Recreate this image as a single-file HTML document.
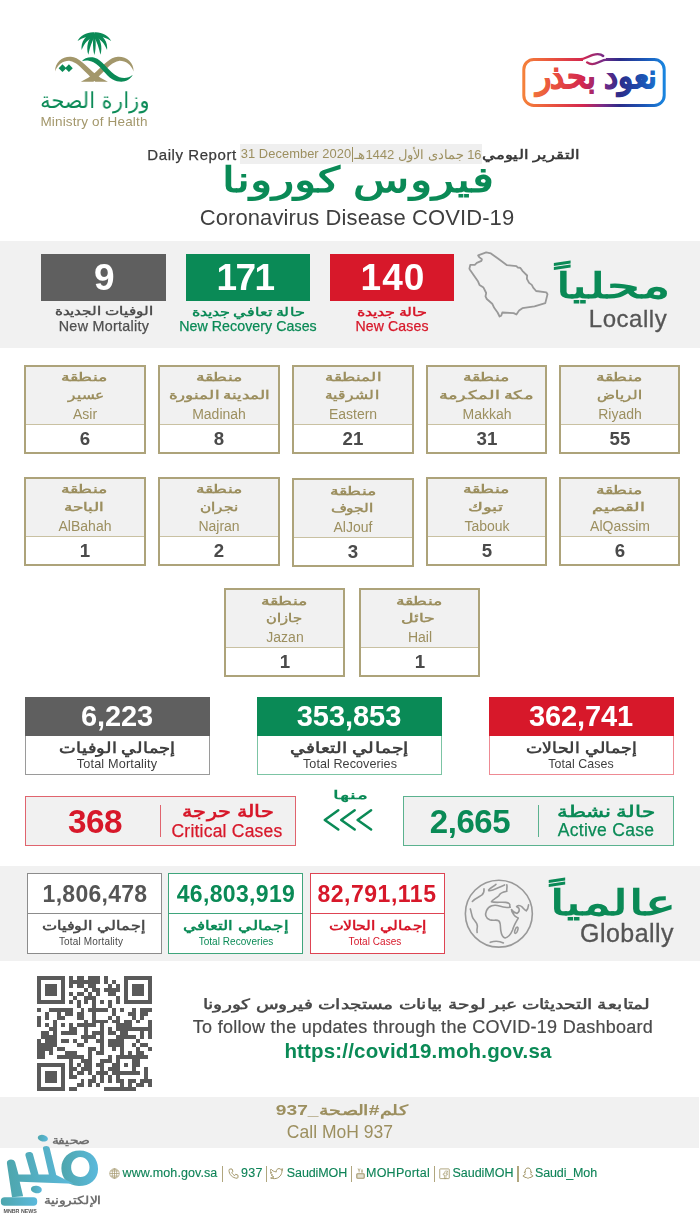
<!DOCTYPE html>
<html lang="ar"><head><meta charset="utf-8"><title>COVID-19 Daily Report</title>
<style>
*{margin:0;padding:0;box-sizing:border-box}
html,body{width:700px;height:1214px;background:#fff;overflow:hidden}
body{position:relative;font-family:"Liberation Sans",sans-serif}
.b{position:absolute}
.t{position:absolute;white-space:nowrap;line-height:1;text-align:center;will-change:transform}
svg{position:absolute;overflow:visible}
</style></head><body>
<div class="b" style="left:0px;top:240.5px;width:700px;height:107px;background:#f1f1f1;"></div>
<div class="b" style="left:0px;top:865.7px;width:700px;height:95.3px;background:#f1f1f1;"></div>
<div class="b" style="left:0px;top:1097px;width:699px;height:51px;background:#f1f1f1;"></div>
<svg style="left:50px;top:28px" width="90" height="60" viewBox="0 0 700 467">
<g fill="#a3976b">
<path d="M40 338 C36 268 98 220 162 224 C224 228 274 288 334 343 C374 378 412 400 450 418 L352 418 C330 398 306 372 282 348 C238 304 200 262 155 256 C108 252 58 284 40 338 Z"/>
<path d="M650 338 C654 268 592 220 528 224 C466 228 416 288 356 343 C316 378 278 400 240 418 L338 418 C360 398 384 372 408 348 C452 304 490 262 535 256 C582 252 632 284 650 338 Z"/>
</g>
<g fill="#0a8a56">
<path d="M248 258 C268 232 310 222 347 232 C404 248 442 318 502 362 C552 398 602 398 644 364 C612 424 545 430 488 400 C428 366 398 296 338 266 C308 252 274 250 248 258 Z"/>
<path d="M97 283 L127 313 L97 343 L67 313 Z"/><path d="M147 283 L177 313 L147 343 L117 313 Z"/>
<path d="M345 30 C356 70 362 150 345 210 C328 150 334 70 345 30 Z"/>
<path d="M342 46 C296 76 278 150 298 208 C310 152 324 104 352 62 Z"/>
<path d="M348 46 C394 76 412 150 392 208 C380 152 366 104 338 62 Z"/>
<path d="M338 40 C276 50 238 108 246 172 C266 118 298 84 350 62 Z"/>
<path d="M352 40 C414 50 452 108 444 172 C424 118 392 84 340 62 Z"/>
<path d="M342 33 C288 30 234 58 214 102 C254 74 296 62 348 60 Z"/>
<path d="M348 33 C402 30 456 58 476 102 C436 74 394 62 342 60 Z"/>
</g></svg>
<div class="t" style="left:-105.0px;top:90.0px;width:400px;font-size:22px;color:#0a8a56;direction:rtl;transform:scaleX(0.946);">وزارة الصحة</div>
<div class="t" style="left:-105.9px;top:115.1px;width:400px;font-size:13.5px;color:#a3976b;letter-spacing:0.16px;">Ministry of Health</div>
<svg style="left:518px;top:46px" width="152" height="66" viewBox="0 0 152 66">
<defs><linearGradient id="cg" gradientUnits="userSpaceOnUse" x1="5" y1="0" x2="147" y2="0">
<stop offset="0" stop-color="#f5813a"/><stop offset="0.22" stop-color="#e8503f"/><stop offset="0.42" stop-color="#d3274f"/><stop offset="0.56" stop-color="#7a2a86"/><stop offset="0.68" stop-color="#2b2c8a"/><stop offset="0.85" stop-color="#1c55b5"/><stop offset="1" stop-color="#1a86e0"/></linearGradient><linearGradient id="cg2" gradientUnits="userSpaceOnUse" x1="-78.7" y1="0" x2="74.2" y2="0"><stop offset="0" stop-color="#f5813a"/><stop offset="0.22" stop-color="#e8503f"/><stop offset="0.42" stop-color="#d3274f"/><stop offset="0.56" stop-color="#7a2a86"/><stop offset="0.68" stop-color="#2b2c8a"/><stop offset="0.85" stop-color="#1c55b5"/><stop offset="1" stop-color="#1a86e0"/></linearGradient></defs>
<rect x="5.8" y="13.4" width="140.4" height="46" rx="10" ry="10" fill="#fff" stroke="url(#cg)" stroke-width="3"/>
<rect x="65" y="9" width="23" height="8" fill="#fff"/>
<path d="M60 13.4 C68 13.4 70 10 75 8.8 C79 7.8 83 8 85.2 10" fill="none" stroke="url(#cg)" stroke-width="2.4" stroke-linecap="round"/>
<path d="M69.1 16.4 C72 18.6 76 18.6 80 16.5 C84 14.4 86 13.4 91 13.4" fill="none" stroke="url(#cg)" stroke-width="2.4" stroke-linecap="round"/>
<text transform="translate(78.45 42.2) scale(0.929 1)" x="0" y="0" text-anchor="middle" direction="rtl" font-family="'Liberation Sans',sans-serif" font-weight="bold" font-size="33.6" fill="url(#cg2)" stroke="url(#cg2)" stroke-width="0.9">نعود بحذر</text>
</svg>
<div class="t" style="left:-7.6px;top:147.0px;width:400px;font-size:15px;color:#3a3a3a;-webkit-text-stroke:0.25px #3a3a3a;letter-spacing:0.57px;">Daily Report</div>
<div class="b" style="left:239.5px;top:144px;width:242.5px;height:19.7px;background:#efefef;"></div>
<div class="t" style="left:96.0px;top:147.7px;width:400px;font-size:12.9px;color:#9c8f5f;letter-spacing:0.05px;">31 December 2020</div>
<div class="b" style="left:352px;top:146.5px;width:1px;height:15px;background:#9c8f5f;"></div>
<div class="t" style="left:218.1px;top:147.8px;width:400px;font-size:13px;color:#9c8f5f;direction:rtl;transform:scaleX(0.998);">16 جمادى الأول 1442هـ</div>
<div class="t" style="left:331.1px;top:148.0px;width:400px;font-size:13px;color:#3a3a3a;font-weight:bold;direction:rtl;transform:scaleX(1.268);">التقرير اليومي</div>
<div class="t" style="left:157.5px;top:163.4px;width:400px;font-size:34.8px;color:#0a8a56;font-weight:bold;direction:rtl;transform:scaleX(1.315);">فيروس كورونا</div>
<div class="t" style="left:157.4px;top:206.8px;width:400px;font-size:22px;color:#3f3f3f;letter-spacing:0.10px;">Coronavirus Disease COVID-19</div>
<div class="b" style="left:41.3px;top:254px;width:124.5px;height:46.5px;background:#5f5f5f;"></div>
<div class="t" style="left:-95.2px;top:259.1px;width:400px;font-size:37px;color:#fff;font-weight:bold;letter-spacing:1.50px;">9</div>
<div class="t" style="left:-95.9px;top:305.0px;width:400px;font-size:11.6px;color:#4f4f4f;font-weight:bold;direction:rtl;transform:scaleX(1.265);">الوفيات الجديدة</div>
<div class="t" style="left:-95.8px;top:319.1px;width:400px;font-size:14.3px;color:#4f4f4f;-webkit-text-stroke:0.25px #4f4f4f;letter-spacing:0.30px;">New Mortality</div>
<div class="b" style="left:185.5px;top:254px;width:124px;height:46.5px;background:#0a8a56;"></div>
<div class="t" style="left:45.2px;top:259.1px;width:400px;font-size:37px;color:#fff;font-weight:bold;letter-spacing:-1.60px;">171</div>
<div class="t" style="left:47.7px;top:305.8px;width:400px;font-size:11.6px;color:#0a8a56;font-weight:bold;direction:rtl;transform:scaleX(1.335);">حالة تعافي جديدة</div>
<div class="t" style="left:48.0px;top:319.2px;width:400px;font-size:14.2px;color:#0a8a56;-webkit-text-stroke:0.25px #0a8a56;letter-spacing:0.06px;">New Recovery Cases</div>
<div class="b" style="left:329.5px;top:254px;width:124px;height:46.5px;background:#d7182a;"></div>
<div class="t" style="left:192.8px;top:259.1px;width:400px;font-size:37px;color:#fff;font-weight:bold;letter-spacing:1.03px;">140</div>
<div class="t" style="left:191.5px;top:305.6px;width:400px;font-size:11.6px;color:#d7182a;font-weight:bold;direction:rtl;transform:scaleX(1.333);">حالة جديدة</div>
<div class="t" style="left:191.9px;top:319.3px;width:400px;font-size:14.1px;color:#d7182a;-webkit-text-stroke:0.25px #d7182a;letter-spacing:0.12px;">New Cases</div>
<svg style="left:0;top:0" width="700" height="400" viewBox="0 0 700 400"><path fill="none" stroke="#999" stroke-width="1.8" stroke-linejoin="round" d="M478.1 255.4 L486.2 252.4 L490.9 253.4 L498.3 258.8 L507 265.2 L516.4 266.1 L517.7 267.5 L520.4 267.9 L522.4 270.8 L527.1 275.5 L526.9 278.9 L529.1 282.9 L531.8 284.9 L533.2 287.6 L536.1 291 L546.3 292.3 L547.5 294.3 L545.3 303.1 L534.5 306.4 L522.4 308.2 L519.1 310.5 L516.4 314.5 L513.7 313.1 L502.3 312.5 L501.2 315.8 L499.6 316.5 L497.6 312.5 L494.2 307.8 L492.2 303.7 L486.8 299 L485.5 296.4 L486.2 293 L483.5 287.6 L479.5 284.9 L478.1 281.6 L470.1 269.9 L469.4 268.8 L470.3 264.8 L474.8 264.8 L476.8 262.8 L481.5 260.8 L481.9 259.2 L479.5 257.4 Z"/></svg>
<div class="t" style="left:413.0px;top:267.7px;width:400px;font-size:35px;color:#0a8a56;font-weight:bold;direction:rtl;transform:scaleX(1.512);">محلياً</div>
<div class="t" style="left:427.9px;top:307.1px;width:400px;font-size:24px;color:#555;-webkit-text-stroke:0.3px #555;letter-spacing:0.51px;">Locally</div>
<div class="b" style="left:24.2px;top:364.8px;width:121.4px;height:88.9px;border:2px solid #ada37a;background:#fff"><div style="height:58px;background:#f1f1f1;border-bottom:1px solid #c9c1a2"></div></div>
<div class="t" style="left:-115.6px;top:371.2px;width:400px;font-size:12.2px;color:#9c8f5f;font-weight:bold;direction:rtl;transform:scaleX(1.445);">منطقة</div>
<div class="t" style="left:-114.3px;top:388.8px;width:400px;font-size:12.2px;color:#9c8f5f;font-weight:bold;direction:rtl;transform:scaleX(1.266);">عسير</div>
<div class="t" style="left:-114.8px;top:406.7px;width:400px;font-size:14.0px;color:#9c8f5f;">Asir</div>
<div class="t" style="left:-114.8px;top:429.8px;width:400px;font-size:18.7px;color:#4a4a4a;font-weight:bold;">6</div>
<div class="b" style="left:158.3px;top:364.8px;width:121.4px;height:88.9px;border:2px solid #ada37a;background:#fff"><div style="height:58px;background:#f1f1f1;border-bottom:1px solid #c9c1a2"></div></div>
<div class="t" style="left:18.5px;top:371.2px;width:400px;font-size:12.2px;color:#9c8f5f;font-weight:bold;direction:rtl;transform:scaleX(1.445);">منطقة</div>
<div class="t" style="left:18.5px;top:388.8px;width:400px;font-size:12.2px;color:#9c8f5f;font-weight:bold;direction:rtl;transform:scaleX(1.392);">المدينة المنورة</div>
<div class="t" style="left:19.3px;top:406.7px;width:400px;font-size:14.0px;color:#9c8f5f;">Madinah</div>
<div class="t" style="left:19.3px;top:429.8px;width:400px;font-size:18.7px;color:#4a4a4a;font-weight:bold;">8</div>
<div class="b" style="left:292.4px;top:364.8px;width:121.4px;height:88.9px;border:2px solid #ada37a;background:#fff"><div style="height:58px;background:#f1f1f1;border-bottom:1px solid #c9c1a2"></div></div>
<div class="t" style="left:152.6px;top:371.2px;width:400px;font-size:12.2px;color:#9c8f5f;font-weight:bold;direction:rtl;transform:scaleX(1.385);">المنطقة</div>
<div class="t" style="left:152.0px;top:388.8px;width:400px;font-size:12.2px;color:#9c8f5f;font-weight:bold;direction:rtl;transform:scaleX(1.293);">الشرقية</div>
<div class="t" style="left:153.4px;top:406.7px;width:400px;font-size:14.0px;color:#9c8f5f;">Eastern</div>
<div class="t" style="left:153.4px;top:429.8px;width:400px;font-size:18.7px;color:#4a4a4a;font-weight:bold;">21</div>
<div class="b" style="left:425.6px;top:364.8px;width:121.4px;height:88.9px;border:2px solid #ada37a;background:#fff"><div style="height:58px;background:#f1f1f1;border-bottom:1px solid #c9c1a2"></div></div>
<div class="t" style="left:285.8px;top:371.2px;width:400px;font-size:12.2px;color:#9c8f5f;font-weight:bold;direction:rtl;transform:scaleX(1.445);">منطقة</div>
<div class="t" style="left:285.8px;top:388.8px;width:400px;font-size:12.2px;color:#9c8f5f;font-weight:bold;direction:rtl;transform:scaleX(1.492);">مكة المكرمة</div>
<div class="t" style="left:286.6px;top:406.7px;width:400px;font-size:14.0px;color:#9c8f5f;">Makkah</div>
<div class="t" style="left:286.6px;top:429.8px;width:400px;font-size:18.7px;color:#4a4a4a;font-weight:bold;">31</div>
<div class="b" style="left:558.9px;top:364.8px;width:121.4px;height:88.9px;border:2px solid #ada37a;background:#fff"><div style="height:58px;background:#f1f1f1;border-bottom:1px solid #c9c1a2"></div></div>
<div class="t" style="left:419.1px;top:371.2px;width:400px;font-size:12.2px;color:#9c8f5f;font-weight:bold;direction:rtl;transform:scaleX(1.445);">منطقة</div>
<div class="t" style="left:419.2px;top:388.8px;width:400px;font-size:12.2px;color:#9c8f5f;font-weight:bold;direction:rtl;transform:scaleX(1.234);">الرياض</div>
<div class="t" style="left:419.9px;top:406.7px;width:400px;font-size:14.0px;color:#9c8f5f;">Riyadh</div>
<div class="t" style="left:419.9px;top:429.8px;width:400px;font-size:18.7px;color:#4a4a4a;font-weight:bold;">55</div>
<div class="b" style="left:24.2px;top:477px;width:121.4px;height:88.9px;border:2px solid #ada37a;background:#fff"><div style="height:58px;background:#f1f1f1;border-bottom:1px solid #c9c1a2"></div></div>
<div class="t" style="left:-115.6px;top:483.4px;width:400px;font-size:12.2px;color:#9c8f5f;font-weight:bold;direction:rtl;transform:scaleX(1.445);">منطقة</div>
<div class="t" style="left:-115.6px;top:501.0px;width:400px;font-size:12.2px;color:#9c8f5f;font-weight:bold;direction:rtl;transform:scaleX(1.404);">الباحة</div>
<div class="t" style="left:-114.8px;top:518.9px;width:400px;font-size:14.0px;color:#9c8f5f;">AlBahah</div>
<div class="t" style="left:-114.8px;top:542.0px;width:400px;font-size:18.7px;color:#4a4a4a;font-weight:bold;">1</div>
<div class="b" style="left:158.3px;top:477px;width:121.4px;height:88.9px;border:2px solid #ada37a;background:#fff"><div style="height:58px;background:#f1f1f1;border-bottom:1px solid #c9c1a2"></div></div>
<div class="t" style="left:18.5px;top:483.4px;width:400px;font-size:12.2px;color:#9c8f5f;font-weight:bold;direction:rtl;transform:scaleX(1.445);">منطقة</div>
<div class="t" style="left:18.6px;top:501.0px;width:400px;font-size:12.2px;color:#9c8f5f;font-weight:bold;direction:rtl;transform:scaleX(1.272);">نجران</div>
<div class="t" style="left:19.3px;top:518.9px;width:400px;font-size:14.0px;color:#9c8f5f;">Najran</div>
<div class="t" style="left:19.3px;top:542.0px;width:400px;font-size:18.7px;color:#4a4a4a;font-weight:bold;">2</div>
<div class="b" style="left:292.4px;top:478.4px;width:121.4px;height:88.9px;border:2px solid #ada37a;background:#fff"><div style="height:58px;background:#f1f1f1;border-bottom:1px solid #c9c1a2"></div></div>
<div class="t" style="left:152.6px;top:484.8px;width:400px;font-size:12.2px;color:#9c8f5f;font-weight:bold;direction:rtl;transform:scaleX(1.445);">منطقة</div>
<div class="t" style="left:152.0px;top:502.4px;width:400px;font-size:12.2px;color:#9c8f5f;font-weight:bold;direction:rtl;transform:scaleX(1.284);">الجوف</div>
<div class="t" style="left:153.4px;top:520.3px;width:400px;font-size:14.0px;color:#9c8f5f;">AlJouf</div>
<div class="t" style="left:153.4px;top:543.4px;width:400px;font-size:18.7px;color:#4a4a4a;font-weight:bold;">3</div>
<div class="b" style="left:425.6px;top:477px;width:121.4px;height:88.9px;border:2px solid #ada37a;background:#fff"><div style="height:58px;background:#f1f1f1;border-bottom:1px solid #c9c1a2"></div></div>
<div class="t" style="left:285.8px;top:483.4px;width:400px;font-size:12.2px;color:#9c8f5f;font-weight:bold;direction:rtl;transform:scaleX(1.445);">منطقة</div>
<div class="t" style="left:285.0px;top:501.0px;width:400px;font-size:12.2px;color:#9c8f5f;font-weight:bold;direction:rtl;transform:scaleX(1.509);">تبوك</div>
<div class="t" style="left:286.6px;top:518.9px;width:400px;font-size:14.0px;color:#9c8f5f;">Tabouk</div>
<div class="t" style="left:286.6px;top:542.0px;width:400px;font-size:18.7px;color:#4a4a4a;font-weight:bold;">5</div>
<div class="b" style="left:558.9px;top:477.4px;width:121.4px;height:88.9px;border:2px solid #ada37a;background:#fff"><div style="height:58px;background:#f1f1f1;border-bottom:1px solid #c9c1a2"></div></div>
<div class="t" style="left:419.1px;top:483.8px;width:400px;font-size:12.2px;color:#9c8f5f;font-weight:bold;direction:rtl;transform:scaleX(1.445);">منطقة</div>
<div class="t" style="left:418.3px;top:501.4px;width:400px;font-size:12.2px;color:#9c8f5f;font-weight:bold;direction:rtl;transform:scaleX(1.494);">القصيم</div>
<div class="t" style="left:419.9px;top:519.3px;width:400px;font-size:14.0px;color:#9c8f5f;">AlQassim</div>
<div class="t" style="left:419.9px;top:542.4px;width:400px;font-size:18.7px;color:#4a4a4a;font-weight:bold;">6</div>
<div class="b" style="left:223.9px;top:588.2px;width:121.4px;height:88.9px;border:2px solid #ada37a;background:#fff"><div style="height:58px;background:#f1f1f1;border-bottom:1px solid #c9c1a2"></div></div>
<div class="t" style="left:84.1px;top:594.6px;width:400px;font-size:12.2px;color:#9c8f5f;font-weight:bold;direction:rtl;transform:scaleX(1.445);">منطقة</div>
<div class="t" style="left:83.6px;top:612.2px;width:400px;font-size:12.2px;color:#9c8f5f;font-weight:bold;direction:rtl;transform:scaleX(1.225);">جازان</div>
<div class="t" style="left:84.9px;top:630.1px;width:400px;font-size:14.0px;color:#9c8f5f;">Jazan</div>
<div class="t" style="left:84.9px;top:653.2px;width:400px;font-size:18.7px;color:#4a4a4a;font-weight:bold;">1</div>
<div class="b" style="left:358.6px;top:588.2px;width:121.4px;height:88.9px;border:2px solid #ada37a;background:#fff"><div style="height:58px;background:#f1f1f1;border-bottom:1px solid #c9c1a2"></div></div>
<div class="t" style="left:218.8px;top:594.6px;width:400px;font-size:12.2px;color:#9c8f5f;font-weight:bold;direction:rtl;transform:scaleX(1.445);">منطقة</div>
<div class="t" style="left:218.1px;top:612.2px;width:400px;font-size:12.2px;color:#9c8f5f;font-weight:bold;direction:rtl;transform:scaleX(1.436);">حائل</div>
<div class="t" style="left:219.6px;top:630.1px;width:400px;font-size:14.0px;color:#9c8f5f;">Hail</div>
<div class="t" style="left:219.6px;top:653.2px;width:400px;font-size:18.7px;color:#4a4a4a;font-weight:bold;">1</div>
<div class="b" style="left:24.7px;top:697px;width:185px;height:78.3px;background:#fff;border:1px solid #9a9a9a;"></div>
<div class="b" style="left:24.7px;top:697px;width:185px;height:38.8px;background:#5f5f5f;"></div>
<div class="t" style="left:-83.0px;top:701.5px;width:400px;font-size:29px;color:#fff;font-weight:bold;letter-spacing:-0.14px;">6,223</div>
<div class="t" style="left:-82.9px;top:740.0px;width:400px;font-size:15.15px;color:#3f3f3f;font-weight:bold;direction:rtl;transform:scaleX(1.188);">إجمالي الوفيات</div>
<div class="t" style="left:-82.6px;top:758.0px;width:400px;font-size:12.7px;color:#3f3f3f;letter-spacing:0.14px;">Total Mortality</div>
<div class="b" style="left:256.5px;top:697px;width:185px;height:78.3px;background:#fff;border:1px solid #7cc4a4;"></div>
<div class="b" style="left:256.5px;top:697px;width:185px;height:38.8px;background:#0a8a56;"></div>
<div class="t" style="left:149.0px;top:701.5px;width:400px;font-size:29px;color:#fff;font-weight:bold;letter-spacing:-0.05px;">353,853</div>
<div class="t" style="left:149.0px;top:740.0px;width:400px;font-size:15.15px;color:#3f3f3f;font-weight:bold;direction:rtl;transform:scaleX(1.243);">إجمالي التعافي</div>
<div class="t" style="left:149.7px;top:758.1px;width:400px;font-size:12.6px;color:#3f3f3f;letter-spacing:0.06px;">Total Recoveries</div>
<div class="b" style="left:489px;top:697px;width:184.6px;height:78.3px;background:#fff;border:1px solid #ee8a93;"></div>
<div class="b" style="left:489px;top:697px;width:184.6px;height:38.8px;background:#d7182a;"></div>
<div class="t" style="left:380.6px;top:701.5px;width:400px;font-size:29px;color:#fff;font-weight:bold;letter-spacing:-0.15px;">362,741</div>
<div class="t" style="left:381.2px;top:740.0px;width:400px;font-size:15.15px;color:#3f3f3f;font-weight:bold;direction:rtl;transform:scaleX(1.153);">إجمالي الحالات</div>
<div class="t" style="left:381.4px;top:758.3px;width:400px;font-size:12.4px;color:#3f3f3f;letter-spacing:0.06px;">Total Cases</div>
<div class="b" style="left:24.5px;top:796.2px;width:271.2px;height:49.4px;background:#f1f1f1;border:1px solid #e0646e;"></div>
<div class="b" style="left:159.8px;top:805px;width:1px;height:31.5px;background:#e0646e;"></div>
<div class="t" style="left:-104.9px;top:804.5px;width:400px;font-size:33.3px;color:#d7182a;font-weight:bold;letter-spacing:-0.57px;">368</div>
<div class="t" style="left:27.7px;top:803.2px;width:400px;font-size:17.4px;color:#d7182a;font-weight:bold;direction:rtl;transform:scaleX(1.231);">حالة حرجة</div>
<div class="t" style="left:27.3px;top:822.6px;width:400px;font-size:17.5px;color:#d7182a;-webkit-text-stroke:0.25px #d7182a;letter-spacing:0.22px;">Critical Cases</div>
<div class="b" style="left:403px;top:796.2px;width:270.8px;height:49.4px;background:#f1f1f1;border:1px solid #5bb28f;"></div>
<div class="b" style="left:538px;top:805px;width:1px;height:31.5px;background:#5bb28f;"></div>
<div class="t" style="left:269.8px;top:804.8px;width:400px;font-size:33px;color:#0a8a56;font-weight:bold;letter-spacing:-0.42px;">2,665</div>
<div class="t" style="left:405.5px;top:802.7px;width:400px;font-size:16.4px;color:#0a8a56;font-weight:bold;direction:rtl;transform:scaleX(1.336);">حالة نشطة</div>
<div class="t" style="left:405.6px;top:822.4px;width:400px;font-size:17.5px;color:#0a8a56;-webkit-text-stroke:0.25px #0a8a56;letter-spacing:0.28px;">Active Case</div>
<div class="t" style="left:149.7px;top:788.8px;width:400px;font-size:12.3px;color:#0a8a56;font-weight:bold;direction:rtl;transform:scaleX(1.695);">منها</div>
<svg style="left:322px;top:806px" width="54" height="28" viewBox="0 0 54 28"><g fill="none" stroke="#0a8a56" stroke-width="2.5" stroke-linecap="round" stroke-linejoin="round"><path d="M16.3 4.2 L2.8 13.9 L16.3 23.5"/><path d="M32.7 4.2 L19.2 13.9 L32.7 23.5"/><path d="M49.1 4.2 L35.6 13.9 L49.1 23.5"/></g></svg>
<div class="b" style="left:27px;top:873px;width:135px;height:81.2px;background:#fff;border:1px solid #8c8c8c;"></div>
<div class="b" style="left:27px;top:912.7px;width:135px;height:1px;background:#8c8c8c;"></div>
<div class="t" style="left:-105.0px;top:883.0px;width:400px;font-size:23px;color:#555;font-weight:bold;letter-spacing:0.27px;">1,806,478</div>
<div class="t" style="left:-105.8px;top:918.8px;width:400px;font-size:13.1px;color:#4a4a4a;font-weight:bold;direction:rtl;transform:scaleX(1.239);">إجمالي الوفيات</div>
<div class="t" style="left:-108.9px;top:937.0px;width:400px;font-size:10px;color:#4a4a4a;letter-spacing:0.16px;">Total Mortality</div>
<div class="b" style="left:168.2px;top:873px;width:135px;height:81.2px;background:#fff;border:1px solid #3fa57c;"></div>
<div class="b" style="left:168.2px;top:912.7px;width:135px;height:1px;background:#3fa57c;"></div>
<div class="t" style="left:35.9px;top:883.0px;width:400px;font-size:23px;color:#0a8a56;font-weight:bold;letter-spacing:0.34px;">46,803,919</div>
<div class="t" style="left:36.2px;top:918.8px;width:400px;font-size:13.1px;color:#0a8a56;font-weight:bold;direction:rtl;transform:scaleX(1.295);">إجمالي التعافي</div>
<div class="t" style="left:36.0px;top:937.0px;width:400px;font-size:10px;color:#0a8a56;letter-spacing:0.05px;">Total Recoveries</div>
<div class="b" style="left:309.6px;top:873px;width:135px;height:81.2px;background:#fff;border:1px solid #de4453;"></div>
<div class="b" style="left:309.6px;top:912.7px;width:135px;height:1px;background:#de4453;"></div>
<div class="t" style="left:177.3px;top:883.0px;width:400px;font-size:23px;color:#d7182a;font-weight:bold;letter-spacing:0.51px;">82,791,115</div>
<div class="t" style="left:177.7px;top:918.6px;width:400px;font-size:13.1px;color:#d7182a;font-weight:bold;direction:rtl;transform:scaleX(1.208);">إجمالي الحالات</div>
<div class="t" style="left:174.6px;top:937.0px;width:400px;font-size:10px;color:#d7182a;letter-spacing:0.05px;">Total Cases</div>
<svg style="left:460px;top:874px" width="80" height="78" viewBox="0 0 700 682"><g fill="none" stroke="#999" stroke-width="14" stroke-linecap="round" stroke-linejoin="round">
<circle cx="340" cy="347" r="293"/>
<path d="M440 290 C400 297 372 290 345 280 C300 265 250 275 232 320 C215 360 225 385 260 400 C290 412 320 395 340 410 C360 430 350 470 358 500 C362 530 375 555 395 560 C420 555 445 525 460 490 C470 450 490 420 510 385 C495 378 480 372 470 355 C460 340 450 325 450 310 C460 325 475 340 500 345 C515 335 522 318 515 300 C508 292 500 288 495 285 C505 275 525 272 545 290 C555 300 565 315 580 322 C592 310 598 290 600 270"/>
<path d="M410 95 C415 120 405 140 410 150 C380 155 350 160 340 190 C320 210 285 225 275 243 C300 252 350 245 400 248 C430 252 442 265 435 285"/>
<path d="M250 140 C262 118 300 108 315 90"/><path d="M252 145 C285 150 330 118 390 95"/>
<path d="M108 240 C130 215 165 200 190 185 C210 170 212 150 210 130"/>
<path d="M90 305 C100 330 100 365 115 390 C135 415 155 430 152 460 C148 480 148 500 150 512"/>
<ellipse cx="493" cy="492" rx="11" ry="29" transform="rotate(20 493 492)"/>
<path d="M265 598 C300 585 350 588 380 603"/>
</g></svg>
<div class="t" style="left:413.4px;top:885.8px;width:400px;font-size:35.4px;color:#0a8a56;font-weight:bold;direction:rtl;transform:scaleX(1.481);">عالمياً</div>
<div class="t" style="left:427.0px;top:921.2px;width:400px;font-size:25px;color:#555;-webkit-text-stroke:0.3px #555;letter-spacing:0.43px;">Globally</div>
<svg style="left:37.3px;top:976.1px" width="114.7" height="114.7" viewBox="0 0 29 29" shape-rendering="crispEdges"><path fill="#5a5a5a" d="M0 0h7v1h-7zM8 0h1v1h-1zM10 0h2v1h-2zM13 0h3v1h-3zM17 0h1v1h-1zM22 0h7v1h-7zM0 1h1v1h-1zM6 1h1v1h-1zM8 1h8v1h-8zM17 1h1v1h-1zM19 1h1v1h-1zM22 1h1v1h-1zM28 1h1v1h-1zM0 2h1v1h-1zM2 2h3v1h-3zM6 2h1v1h-1zM8 2h1v1h-1zM10 2h2v1h-2zM13 2h2v1h-2zM18 2h1v1h-1zM20 2h1v1h-1zM22 2h1v1h-1zM24 2h3v1h-3zM28 2h1v1h-1zM0 3h1v1h-1zM2 3h3v1h-3zM6 3h1v1h-1zM12 3h1v1h-1zM14 3h2v1h-2zM17 3h4v1h-4zM22 3h1v1h-1zM24 3h3v1h-3zM28 3h1v1h-1zM0 4h1v1h-1zM2 4h3v1h-3zM6 4h1v1h-1zM8 4h1v1h-1zM10 4h2v1h-2zM13 4h1v1h-1zM15 4h1v1h-1zM18 4h2v1h-2zM22 4h1v1h-1zM24 4h3v1h-3zM28 4h1v1h-1zM0 5h1v1h-1zM6 5h1v1h-1zM9 5h1v1h-1zM12 5h3v1h-3zM20 5h1v1h-1zM22 5h1v1h-1zM28 5h1v1h-1zM0 6h7v1h-7zM8 6h1v1h-1zM10 6h1v1h-1zM12 6h1v1h-1zM14 6h1v1h-1zM16 6h1v1h-1zM18 6h1v1h-1zM20 6h1v1h-1zM22 6h7v1h-7zM10 7h1v1h-1zM14 7h1v1h-1zM18 7h1v1h-1zM0 8h1v1h-1zM3 8h6v1h-6zM11 8h1v1h-1zM13 8h5v1h-5zM19 8h1v1h-1zM21 8h1v1h-1zM24 8h1v1h-1zM26 8h3v1h-3zM2 9h1v1h-1zM5 9h1v1h-1zM7 9h2v1h-2zM10 9h2v1h-2zM14 9h1v1h-1zM19 9h1v1h-1zM23 9h2v1h-2zM26 9h2v1h-2zM0 10h1v1h-1zM2 10h1v1h-1zM5 10h2v1h-2zM10 10h2v1h-2zM14 10h1v1h-1zM18 10h1v1h-1zM20 10h1v1h-1zM24 10h1v1h-1zM26 10h1v1h-1zM0 11h1v1h-1zM4 11h1v1h-1zM12 11h1v1h-1zM14 11h4v1h-4zM19 11h2v1h-2zM22 11h2v1h-2zM25 11h1v1h-1zM28 11h1v1h-1zM0 12h1v1h-1zM2 12h1v1h-1zM4 12h1v1h-1zM6 12h1v1h-1zM8 12h1v1h-1zM10 12h5v1h-5zM16 12h1v1h-1zM20 12h4v1h-4zM28 12h1v1h-1zM3 13h2v1h-2zM8 13h2v1h-2zM12 13h1v1h-1zM16 13h1v1h-1zM18 13h1v1h-1zM20 13h9v1h-9zM1 14h2v1h-2zM4 14h1v1h-1zM6 14h4v1h-4zM12 14h1v1h-1zM14 14h3v1h-3zM18 14h2v1h-2zM21 14h2v1h-2zM26 14h1v1h-1zM28 14h1v1h-1zM1 15h4v1h-4zM11 15h4v1h-4zM16 15h1v1h-1zM20 15h5v1h-5zM26 15h1v1h-1zM28 15h1v1h-1zM0 16h1v1h-1zM2 16h3v1h-3zM6 16h2v1h-2zM9 16h1v1h-1zM12 16h1v1h-1zM15 16h2v1h-2zM18 16h4v1h-4zM25 16h1v1h-1zM0 17h5v1h-5zM10 17h2v1h-2zM16 17h1v1h-1zM18 17h4v1h-4zM24 17h1v1h-1zM26 17h2v1h-2zM0 18h4v1h-4zM5 18h2v1h-2zM13 18h2v1h-2zM16 18h1v1h-1zM19 18h1v1h-1zM21 18h1v1h-1zM25 18h1v1h-1zM28 18h1v1h-1zM0 19h2v1h-2zM3 19h1v1h-1zM7 19h3v1h-3zM13 19h1v1h-1zM15 19h2v1h-2zM21 19h1v1h-1zM23 19h1v1h-1zM25 19h2v1h-2zM0 20h2v1h-2zM5 20h7v1h-7zM13 20h1v1h-1zM18 20h1v1h-1zM20 20h8v1h-8zM8 21h1v1h-1zM11 21h3v1h-3zM16 21h3v1h-3zM20 21h1v1h-1zM24 21h2v1h-2zM0 22h7v1h-7zM8 22h1v1h-1zM10 22h1v1h-1zM12 22h2v1h-2zM15 22h2v1h-2zM19 22h2v1h-2zM22 22h1v1h-1zM24 22h2v1h-2zM0 23h1v1h-1zM6 23h1v1h-1zM8 23h2v1h-2zM11 23h3v1h-3zM16 23h1v1h-1zM18 23h3v1h-3zM24 23h1v1h-1zM27 23h1v1h-1zM0 24h1v1h-1zM2 24h3v1h-3zM6 24h1v1h-1zM8 24h1v1h-1zM10 24h2v1h-2zM13 24h1v1h-1zM15 24h3v1h-3zM19 24h7v1h-7zM27 24h1v1h-1zM0 25h1v1h-1zM2 25h3v1h-3zM6 25h1v1h-1zM8 25h2v1h-2zM14 25h1v1h-1zM16 25h1v1h-1zM18 25h1v1h-1zM20 25h1v1h-1zM27 25h1v1h-1zM0 26h1v1h-1zM2 26h3v1h-3zM6 26h1v1h-1zM11 26h1v1h-1zM13 26h2v1h-2zM16 26h1v1h-1zM18 26h1v1h-1zM20 26h2v1h-2zM23 26h2v1h-2zM26 26h3v1h-3zM0 27h1v1h-1zM6 27h1v1h-1zM10 27h2v1h-2zM13 27h1v1h-1zM15 27h1v1h-1zM21 27h1v1h-1zM23 27h1v1h-1zM25 27h2v1h-2zM28 27h1v1h-1zM0 28h7v1h-7zM8 28h2v1h-2zM17 28h8v1h-8z"/></svg>
<div class="t" style="left:126.0px;top:998.0px;width:600px;font-size:13.7px;color:#4a4a4a;font-weight:bold;direction:rtl;transform:scaleX(1.331);">لمتابعة التحديثات عبر لوحة بيانات مستجدات فيروس كورونا</div>
<div class="t" style="left:142.9px;top:1017.7px;width:560px;font-size:18px;color:#4a4a4a;-webkit-text-stroke:0.2px #4a4a4a;letter-spacing:0.27px;">To follow the updates through the COVID-19 Dashboard</div>
<div class="t" style="left:218.1px;top:1040.5px;width:400px;font-size:20.5px;color:#0a8a56;font-weight:bold;letter-spacing:0.17px;">https://covid19.moh.gov.sa</div>
<div class="t" style="left:142.3px;top:1102.8px;width:400px;font-size:14.1px;color:#9c8f5f;font-weight:bold;direction:rtl;transform:scaleX(1.361);">كلم#الصحة_937</div>
<div class="t" style="left:140.4px;top:1123.8px;width:400px;font-size:17.5px;color:#9c8f5f;letter-spacing:0.02px;">Call MoH 937</div>
<div class="t" style="left:-30.3px;top:1167.0px;width:400px;font-size:12.5px;color:#0e8357;-webkit-text-stroke:0.12px #0e8357;letter-spacing:0.09px;">www.moh.gov.sa</div>
<div class="t" style="left:51.9px;top:1167.0px;width:400px;font-size:12.5px;color:#0e8357;-webkit-text-stroke:0.12px #0e8357;letter-spacing:0.31px;">937</div>
<div class="t" style="left:116.7px;top:1167.0px;width:400px;font-size:12.5px;color:#0e8357;-webkit-text-stroke:0.12px #0e8357;letter-spacing:-0.10px;">SaudiMOH</div>
<div class="t" style="left:198.2px;top:1167.0px;width:400px;font-size:12.5px;color:#0e8357;-webkit-text-stroke:0.12px #0e8357;letter-spacing:0.24px;">MOHPortal</div>
<div class="t" style="left:282.7px;top:1167.0px;width:400px;font-size:12.5px;color:#0e8357;-webkit-text-stroke:0.12px #0e8357;letter-spacing:-0.02px;">SaudiMOH</div>
<div class="t" style="left:365.5px;top:1167.0px;width:400px;font-size:12.5px;color:#0e8357;-webkit-text-stroke:0.12px #0e8357;letter-spacing:-0.15px;">Saudi_Moh</div>
<div class="b" style="left:221.5px;top:1165.5px;width:1.4px;height:16px;background:#b0a67e"></div>
<div class="b" style="left:266px;top:1165.5px;width:1.4px;height:16px;background:#b0a67e"></div>
<div class="b" style="left:351px;top:1165.5px;width:1.4px;height:16px;background:#b0a67e"></div>
<div class="b" style="left:433.5px;top:1165.5px;width:1.4px;height:16px;background:#b0a67e"></div>
<div class="b" style="left:517.3px;top:1165.5px;width:1.4px;height:16px;background:#b0a67e"></div>
<svg style="left:109px;top:1167.5px" width="11" height="11" viewBox="0 0 22 22"><g fill="none" stroke="#a3976b" stroke-width="1.4"><circle cx="11" cy="11" r="9.5"/><ellipse cx="11" cy="11" rx="4.5" ry="9.5"/><path d="M1.5 11h19M3 6h16M3 16h16M11 1.5v19"/></g></svg>
<svg style="left:228px;top:1167.5px" width="11" height="11" viewBox="0 0 22 22"><path fill="none" stroke="#a3976b" stroke-width="2" stroke-linejoin="round" d="M4 2 L8 2 L10 7 L7.5 9 C9 12 11 14 13.5 15 L15.5 12.5 L20 14.5 L20 18.5 C20 19.5 19 20.5 18 20.5 C9 20 2 13 2 4.5 C2 3 3 2 4 2 Z"/></svg>
<svg style="left:270px;top:1167.5px" width="14" height="11" viewBox="0 0 28 22"><path fill="none" stroke="#a3976b" stroke-width="2" stroke-linejoin="round" d="M26 3.5 C25 4 24 4.3 23 4.5 C24 3.8 24.8 2.8 25.2 1.6 C24.2 2.2 23 2.7 21.8 2.9 C20.8 1.8 19.4 1.2 18 1.2 C15 1.2 12.6 3.6 12.6 6.5 C12.6 7 12.7 7.4 12.8 7.8 C8.3 7.6 4.3 5.4 1.7 2.1 C1.2 2.9 1 3.8 1 4.8 C1 6.7 1.9 8.3 3.4 9.3 C2.5 9.3 1.7 9 1 8.6 C1 11.2 2.9 13.4 5.3 13.9 C4.5 14.1 3.7 14.2 2.9 14 C3.6 16.1 5.6 17.7 7.9 17.7 C6 19.2 3.7 20 1.2 20 C3.6 21 6 21.3 8.6 21.3 C18.5 21.3 24 13 24 5.8 L24 5.1 C25 4.4 25.6 4 26 3.5 Z"/></svg>
<svg style="left:355.6px;top:1167.6px" width="9" height="11" viewBox="0 0 18 22"><g fill="#a3976b"><path d="M3 1h2l1.2 3L7.4 1h2L7 6v3.2H5.4V6Z M10 3.2h1.4v4.4h1.2V3.2H14v6h-4Z" opacity="0.8"/><rect x="1.6" y="11.6" width="14.8" height="8.8" rx="1.6" fill-opacity="0.3" stroke="#a3976b" stroke-width="2.2"/></g></svg>
<svg style="left:438.5px;top:1167.5px" width="11" height="11" viewBox="0 0 22 22"><rect x="1.5" y="1.8" width="19" height="19.4" rx="1.2" fill="none" stroke="#a3976b" stroke-width="1.7"/><path d="M17 6 h-2.5 c-2.4 0-3.6 1.4-3.6 3.4 v2 h-2.4 v2.6 h2.4 v7.2 h3 v-7.2 h2.6 l0.4-2.6 h-3 v-1.6 c0-0.9 0.4-1.3 1.3-1.3 h1.8 Z" fill="none" stroke="#a3976b" stroke-width="1.3"/></svg>
<svg style="left:521.5px;top:1167px" width="12" height="12" viewBox="0 0 24 24"><path fill="none" stroke="#a3976b" stroke-width="2" stroke-linejoin="round" d="M12 2 C8.5 2 6.5 4.5 6.5 7.5 L6.6 10.5 L4.3 10.2 C5 12 6 13 6.8 13.5 C6 15.5 4 17.3 1.8 18 C2.5 19.3 4.2 19.3 5.3 19.5 L5.8 21 C7.5 20.6 8.6 20.8 9.6 21.5 C10.4 22 11 22.4 12 22.4 C13 22.4 13.6 22 14.4 21.5 C15.4 20.8 16.5 20.6 18.2 21 L18.7 19.5 C19.8 19.3 21.5 19.3 22.2 18 C20 17.3 18 15.5 17.2 13.5 C18 13 19 12 19.7 10.2 L17.4 10.5 L17.5 7.5 C17.5 4.5 15.5 2 12 2 Z"/></svg>
<svg style="left:0;top:1120px" width="120" height="94" viewBox="0 0 700 548">
<defs><linearGradient id="wg" x1="0" y1="0" x2="1" y2="0"><stop offset="0" stop-color="#4ea6ad"/><stop offset="1" stop-color="#5bb9dc"/></linearGradient></defs>
<g fill="url(#wg)">
<ellipse cx="250" cy="106" rx="30" ry="19" transform="rotate(12 250 106)"/>
<ellipse cx="212" cy="405" rx="32" ry="22" transform="rotate(8 212 405)"/>
<path d="M465 178 C530 178 572 225 572 285 C572 345 525 385 460 385 C398 385 358 340 358 282 C358 222 402 178 465 178 Z M468 215 C435 215 415 245 415 275 C415 310 438 332 470 332 C503 332 522 305 522 275 C522 242 500 215 468 215 Z" fill-rule="evenodd"/>
<path d="M250 165 C250 150 285 145 290 165 L328 320 L430 372 L115 360 L135 445 L70 450 L40 250 C38 228 80 222 88 245 L108 318 L180 318 L148 205 C145 185 185 180 192 198 L225 318 L285 318 Z"/>
<rect x="5" y="450" width="212" height="50" rx="22"/>
</g>
<g fill="#707070" font-family="'Liberation Sans',sans-serif" font-weight="bold">
<text transform="translate(412 140) scale(1.27 1)" text-anchor="middle" direction="rtl" font-size="62">صحيفة</text>
<text transform="translate(423 488) scale(1.26 1)" text-anchor="middle" direction="rtl" font-size="64">الإلكترونية</text>
<text x="118" y="542" text-anchor="middle" font-size="34" fill="#555" textLength="195" lengthAdjust="spacingAndGlyphs">MNBR NEWS</text>
</g></svg>
</body></html>
